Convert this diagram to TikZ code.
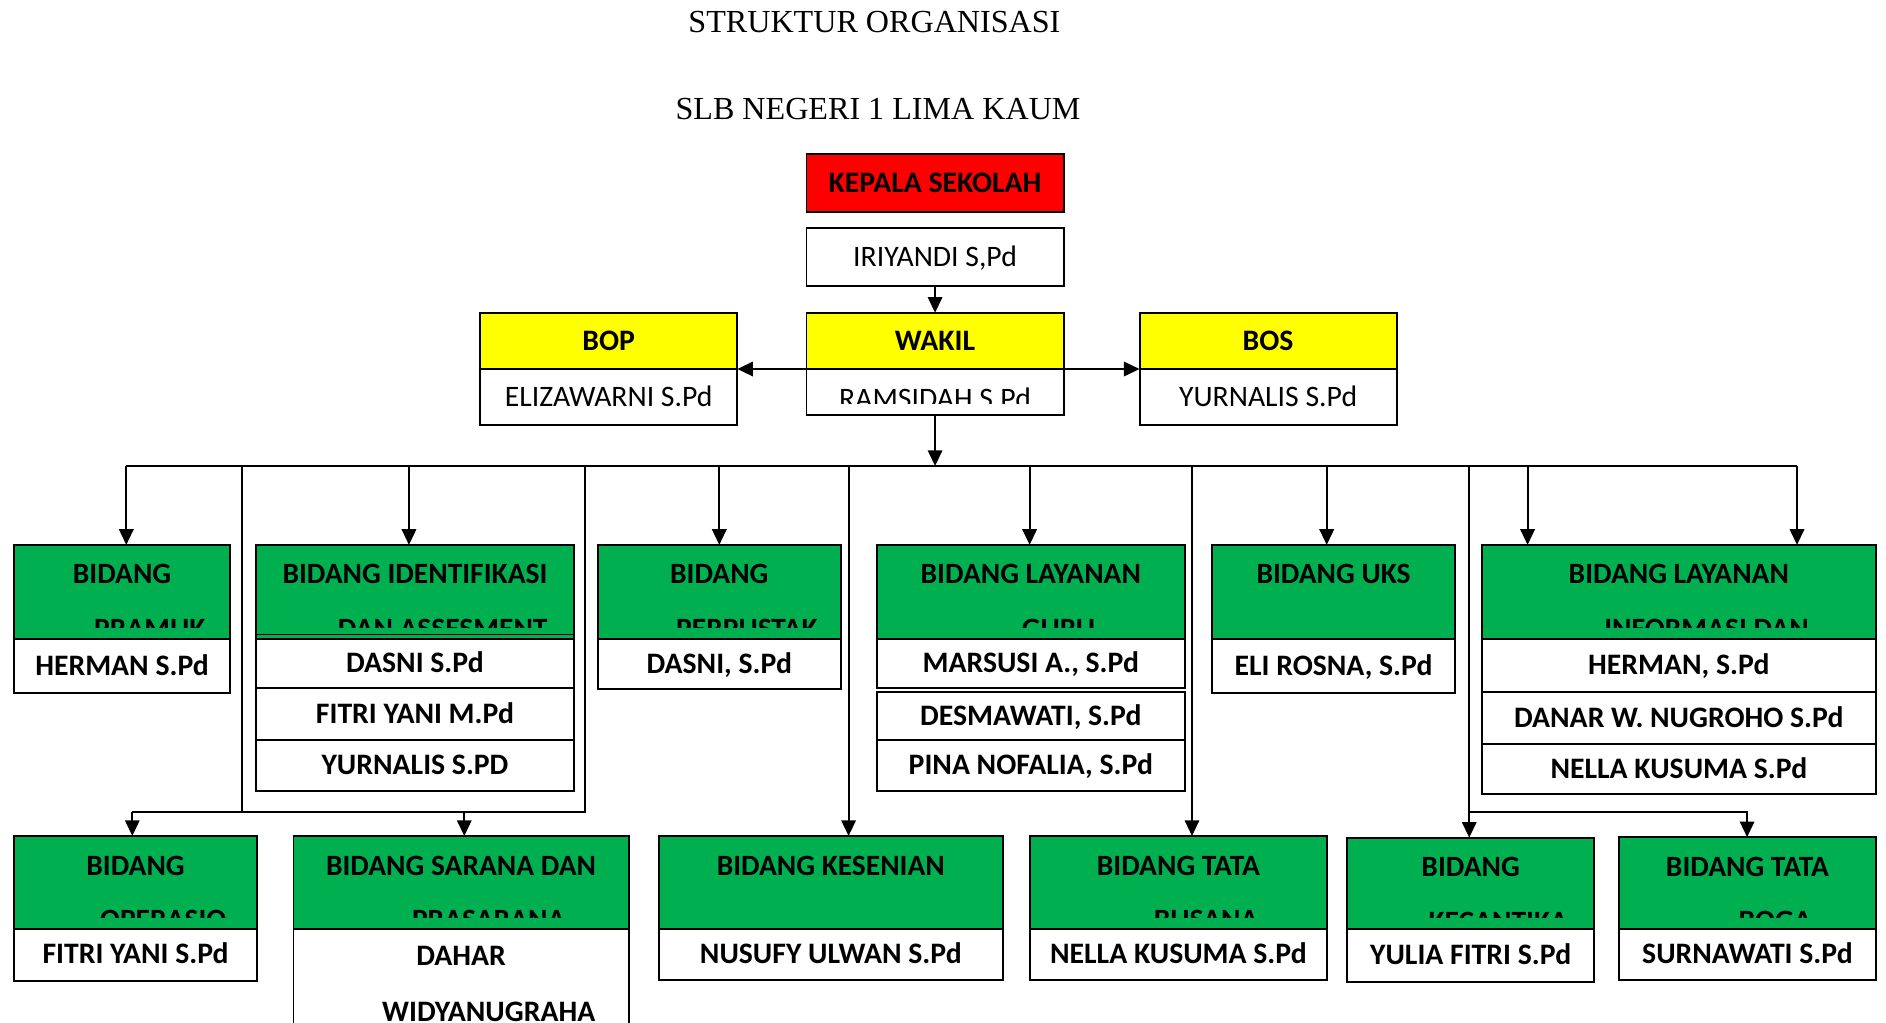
\documentclass[tikz,border=0pt]{standalone}
\usepackage{fontspec}
\setmainfont{Liberation Serif}
\newfontfamily\calfont{Carlito}
\usetikzlibrary{arrows.meta,calc}
\definecolor{hijau}{HTML}{00B050}
\definecolor{kuning}{HTML}{FFFF00}
\definecolor{merah}{HTML}{FF0000}
\newcommand\ttlfont{\calfont\bfseries\fontsize{24.5}{28}\selectfont}
\newcommand\nmfont{\calfont\bfseries\fontsize{24.7}{28}\selectfont}
\newcommand\rgfont{\calfont\fontsize{24.7}{28}\selectfont}
\tikzset{
  ln/.style={line width=1.6pt},
  arr/.style={ln,-{Triangle[length=13pt,width=12pt]}},
  box/.style={draw,line width=1.6pt,inner sep=0pt,outer sep=0pt,anchor=north west},
  ghdr/.style={box,fill=hijau},
  yhdr/.style={box,fill=kuning,font=\nmfont,text height=15.6pt,text depth=0pt},
  rhdr/.style={box,fill=merah,font=\nmfont,text height=15.6pt,text depth=0pt},
  wbox/.style={box,fill=white,font=\nmfont,text height=15.6pt,text depth=0pt},
  rbox/.style={box,fill=white,font=\rgfont,text height=15.6pt,text depth=0pt},
  ttl/.style={font=\ttlfont,anchor=base,inner sep=0pt},
  nmt/.style={font=\nmfont,anchor=base,inner sep=0pt},
  rgt/.style={font=\rgfont,anchor=base,inner sep=0pt},
  judul/.style={font=\fontsize{26.7}{30}\selectfont,anchor=base,inner sep=0pt}
}
% name x1 y1 x2 y2 line1 line2
\newcommand\mkhdr[7]{%
  \node[ghdr,minimum width={(#4-#2)*1pt},minimum height={(#5-#3)*1pt}] (#1) at (#2,#3) {};
  \node[ttl] (#1a) at ($(#1.north)+(0,32.5)$) {#6};
  \begin{scope}
    \clip (#1.north west) rectangle ($(#1.south east)+(0,-9.5)$);
    \node[ttl] (#1b) at ($(#1.north)+(23,78)$) {#7};
  \end{scope}}
% name x1 y1 x2 y2 text
\newcommand\mkname[6]{%
  \node[wbox,minimum width={(#4-#2)*1pt},minimum height={(#5-#3)*1pt}] (#1) at (#2,#3) {#6};}
\begin{document}
\begin{tikzpicture}[x=1pt,y=-1pt]
\useasboundingbox (0,0) rectangle (1568,850);
\clip (0,0) rectangle (1568,850);
\fill[white] (0,0) rectangle (1568,850);

% titles
\node[judul] (t1) at (727,26.9) {STRUKTUR ORGANISASI};
\node[judul] (t2) at (730,99.2) {SLB NEGERI 1 LIMA KAUM};

% top
\node[rhdr,minimum width=213.8pt,minimum height=48pt] (kepala) at (670.5,128) {KEPALA SEKOLAH};
\node[rbox,minimum width=213.8pt,minimum height=48pt] (iriyandi) at (670.5,189.8) {IRIYANDI S,Pd};

\node[yhdr,minimum width=213.8pt,minimum height=46.8pt] (wakil) at (670.5,260) {WAKIL};
\node[box,fill=white,minimum width=213.8pt,minimum height=38.5pt] (wakilN) at (670.5,306.8) {};
\begin{scope}
  \clip (wakilN.north west) rectangle ($(wakilN.south east)+(0,-10)$);
  \node[rgt] (wakilT) at ($(wakilN.north)+(0,33)$) {RAMSIDAH S.Pd};
\end{scope}

\node[yhdr,minimum width=213.8pt,minimum height=46.8pt] (bop) at (399.2,260) {BOP};
\node[rbox,minimum width=213.8pt,minimum height=46.8pt] (bopN) at (399.2,306.8) {ELIZAWARNI S.Pd};
\node[yhdr,minimum width=213.8pt,minimum height=46.8pt] (bos) at (947.4,260) {BOS};
\node[rbox,minimum width=213.8pt,minimum height=46.8pt] (bosN) at (947.4,306.8) {YURNALIS S.Pd};

% row 1
\mkhdr{pramuka}{12}{453}{191}{531}{BIDANG}{PRAMUK}
\mkname{pramukaN}{12}{531}{191}{576}{HERMAN S.Pd}

\mkhdr{ident}{213}{453}{477}{531}{BIDANG IDENTIFIKASI}{DAN ASSESMENT}
\draw[ln] ($(ident.south west)+(0,-3.5)$) -- ($(ident.south east)+(0,-3.5)$);
\mkname{identN1}{213}{531}{477}{572}{DASNI S.Pd}
\mkname{identN2}{213}{572}{477}{615.3}{FITRI YANI M.Pd}
\mkname{identN3}{213}{615.3}{477}{657.4}{YURNALIS S.PD}

\mkhdr{perpus}{497}{453}{699}{531}{BIDANG}{PERPUSTAK}
\mkname{perpusN}{497}{531}{699}{572.5}{DASNI, S.Pd}

\mkhdr{guru}{729}{453}{985}{531}{BIDANG LAYANAN}{GURU}
\mkname{guruN1}{729}{531}{985}{572.3}{MARSUSI A., S.Pd}
\mkname{guruN2}{729}{575.3}{985}{615.3}{DESMAWATI, S.Pd}
\mkname{guruN3}{729}{615.3}{985}{657.4}{PINA NOFALIA, S.Pd}

\mkhdr{uks}{1008}{453}{1209.4}{531}{BIDANG UKS}{}
\mkname{uksN}{1008}{531}{1209.4}{576}{ELI ROSNA, S.Pd}

\mkhdr{info}{1232}{453}{1559.5}{531}{BIDANG LAYANAN}{INFORMASI DAN}
\mkname{infoN1}{1232}{531}{1559.5}{575}{HERMAN, S.Pd}
\mkname{infoN2}{1232}{575}{1559.5}{618.8}{DANAR W. NUGROHO S.Pd}
\mkname{infoN3}{1232}{618.8}{1559.5}{660.4}{NELLA KUSUMA S.Pd}

% row 2
\mkhdr{oper}{12}{695}{213.4}{772}{BIDANG}{OPERASIO}
\mkname{operN}{12}{772}{213.4}{815.3}{FITRI YANI S.Pd}

\mkhdr{sarana}{244}{695}{522.6}{772}{BIDANG SARANA DAN}{PRASARANA}
\node[box,fill=white,minimum width=278.6pt,minimum height=100pt] (saranaN) at (244,772) {};
\node[nmt] (saranaT1) at ($(saranaN.north)+(0,30.5)$) {DAHAR};
\node[nmt] (saranaT2) at ($(saranaN.north)+(23,77)$) {WIDYANUGRAHA};

\mkhdr{seni}{547.8}{695}{833.6}{772}{BIDANG KESENIAN}{}
\mkname{seniN}{547.8}{772}{833.6}{815}{NUSUFY ULWAN S.Pd}

\mkhdr{busana}{856}{695}{1103.4}{772}{BIDANG TATA}{BUSANA}
\mkname{busanaN}{856}{772}{1103.4}{815}{NELLA KUSUMA S.Pd}

\mkhdr{cantik}{1120}{696.4}{1325.3}{772.6}{BIDANG}{KECANTIKA}
\mkname{cantikN}{1120}{772.6}{1325.3}{816.2}{YULIA FITRI S.Pd}

\mkhdr{boga}{1346}{696}{1559.6}{772}{BIDANG TATA}{BOGA}
\mkname{bogaN}{1346}{772}{1559.6}{815}{SURNAWATI S.Pd}

% connectors top
\draw[arr] (iriyandi.south) -- (wakil.north);
\draw[arr] (wakil.south west) -- (bop.south east);
\draw[arr] (wakil.south east) -- (bos.south west);

\coordinate (busL) at (105,387.4);
\coordinate (busR) at (1494,387.4);
\draw[ln] (busL) -- (busR);
\draw[arr] (wakilN.south) -- (wakilN.south |- busL);

% drops to row 1
\coordinate (d2) at (340,387.4);
\coordinate (d3) at (598,387.4);
\coordinate (d4) at (856,387.4);
\coordinate (d5) at (1103,387.4);
\coordinate (d6) at (1270,387.4);
\draw[arr] (busL) -- (busL |- pramuka.north);
\draw[arr] (d2) -- (d2 |- ident.north);
\draw[arr] (d3) -- (d3 |- perpus.north);
\draw[arr] (d4) -- (d4 |- guru.north);
\draw[arr] (d5) -- (d5 |- uks.north);
\draw[arr] (d6) -- (d6 |- info.north);
\draw[arr] (busR) -- (busR |- info.north);

% left group to row 2
\coordinate (j1) at (201,387.4);
\coordinate (j2) at (486,387.4);
\coordinate (k0) at (110,675);
\coordinate (k1) at (201,675);
\coordinate (k2) at (486,675);
\coordinate (k3) at (386,675);
\draw[ln] (j1) -- (k1);
\draw[ln] (k0) -- (k2) -- (j2);
\draw[arr] (k0) -- (k0 |- oper.north);
\draw[arr] (k3) -- (k3 |- sarana.north);

% middle drops to row 2
\coordinate (j3) at (705.5,387.4);
\coordinate (j4) at (991,387.4);
\draw[arr] (j3) -- (j3 |- seni.north);
\draw[arr] (j4) -- (j4 |- busana.north);

% right group
\coordinate (j5) at (1221.5,387.4);
\coordinate (k5) at (1221.5,675);
\coordinate (k6) at (1452.5,675);
\draw[arr] (j5) -- (j5 |- cantik.north);
\draw[arr] (k5) -- (k6) -- (k6 |- boga.north);
\end{tikzpicture}
\end{document}
